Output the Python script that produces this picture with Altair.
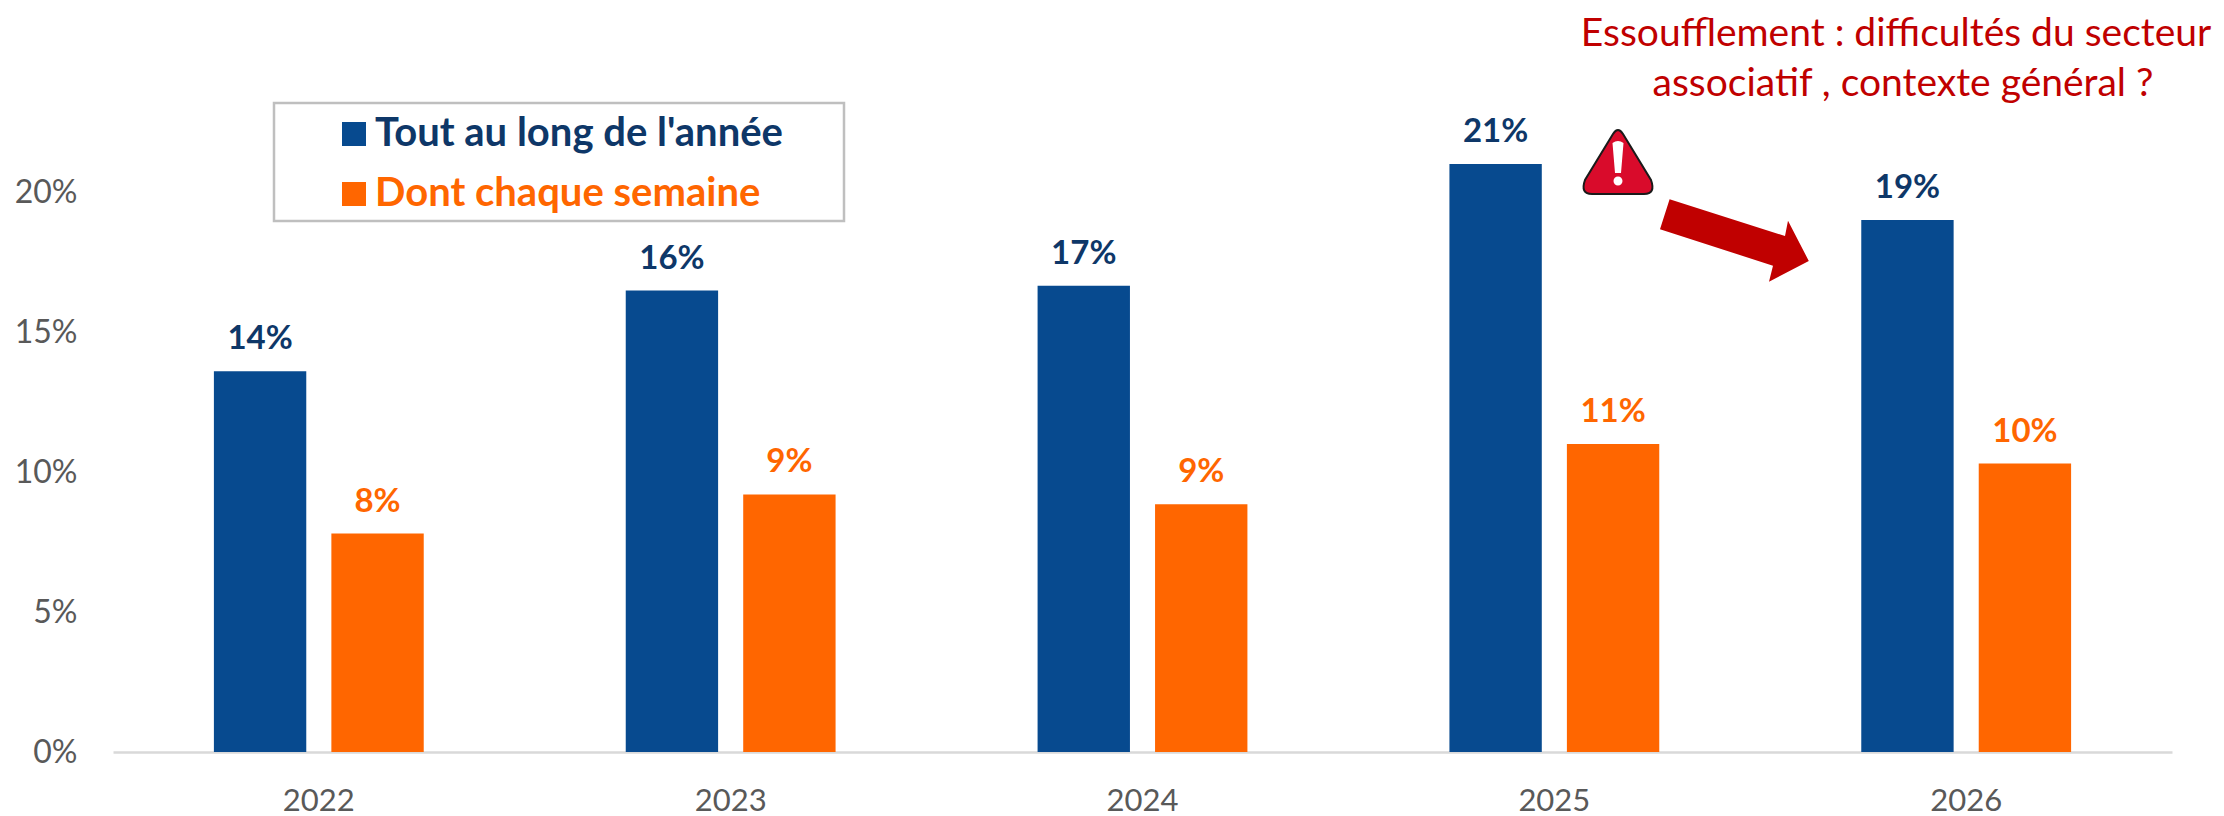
import altair as alt
import pandas as pd

years = ["2022", "2023", "2024", "2025", "2026"]
series_names = ["Tout au long de l'année", "Dont chaque semaine"]
all_year = [0.136, 0.1648, 0.1665, 0.21, 0.19]
weekly = [0.078, 0.092, 0.0885, 0.11, 0.103]
note_lines = ["Essoufflement : difficultés du secteur", "associatif , contexte général ?"]

BLUE = "#074A8F"
ORANGE = "#FF6600"
NAVY = "#0E3768"
RED = "#C00000"
GREY = "#595959"
FONT = "Lato"

df = pd.DataFrame(
    [{"year": y, "series": series_names[0], "value": v} for y, v in zip(years, all_year)]
    + [{"year": y, "series": series_names[1], "value": v} for y, v in zip(years, weekly)]
)

x_enc = alt.X(
    "year:N",
    sort=years,
    scale=alt.Scale(domain=years, paddingInner=0.4905, paddingOuter=0.245),
    axis=alt.Axis(
        title=None, labelAngle=0, labelFont=FONT, labelFontSize=31, labelColor=GREY,
        labelPadding=34, ticks=False, domainColor="#D9D9D9", domainWidth=2.5,
    ),
)
off_enc = alt.XOffset(
    "series:N", sort=series_names,
    scale=alt.Scale(domain=series_names, paddingInner=0.2137, paddingOuter=0),
)
y_enc = alt.Y(
    "value:Q",
    scale=alt.Scale(domain=[0, 0.25]),
    axis=alt.Axis(
        title=None, values=[0, 0.05, 0.1, 0.15, 0.2], format=".0%", labelFont=FONT,
        labelFontSize=32, labelColor=GREY, labelPadding=36, ticks=False, domain=False, grid=False,
    ),
)

one = pd.DataFrame({"k": [0]})

box = alt.Chart(one).mark_rect(
    fill="white", stroke="#BFBFBF", strokeWidth=2.5
).encode(x=alt.value(161), x2=alt.value(731), y=alt.value(51), y2=alt.value(169))

bars = alt.Chart(df).mark_bar().encode(
    x=x_enc, xOffset=off_enc, y=y_enc,
    color=alt.Color(
        "series:N",
        sort=series_names,
        scale=alt.Scale(domain=series_names, range=[BLUE, ORANGE]),
        legend=alt.Legend(
            title=None, orient="none", legendX=221, legendY=62, symbolType="square",
            symbolSize=576, symbolStrokeWidth=0, symbolOpacity=1, labelFont=FONT, labelFontSize=40,
            labelFontWeight="bold", labelLimit=600, rowPadding=20, labelOffset=1,
            labelColor=alt.ExprRef(expr="datum.value === \"Tout au long de l'année\" ? '#0E3768' : '#FF6600'"),
            padding=0,
        ),
    ),
)


def labels(name, colour):
    return alt.Chart(df).transform_filter(alt.datum.series == name).mark_text(
        font=FONT, fontSize=33, fontWeight="bold", color=colour, baseline="middle", dy=-32,
    ).encode(x=x_enc, xOffset=off_enc, y=y_enc, text=alt.Text("value:Q", format=".0%"))


def note_line(line, xpos, ypos):
    return alt.Chart(pd.DataFrame({"t": [line]})).mark_text(
        font=FONT, fontSize=39, color=RED, align="center", baseline="middle",
    ).encode(x=alt.value(xpos), y=alt.value(ypos), text="t:N")


ARROW = "M-.654 -.407 L.50 -.04 L.53 -.193 L.738 .21 L.34 .417 L.38 .257 L-.75 -.107 Z"
TRI = "M-.05 -.28 Q0 -.36 .05 -.28 L.33 .18 Q.38 .32 .26 .32 L-.26 .32 Q-.38 .32 -.33 .18 Z"
BANG = "M-.055 -.19 Q0 -.23 .055 -.19 L.03 .11 L-.03 .11 Z M-.045 .19 A.045 .045 0 1 1 .045 .19 A.045 .045 0 1 1 -.045 .19 Z"

arrow = alt.Chart(one).mark_point(shape=ARROW, filled=True, fill=RED, opacity=1, strokeWidth=0, size=40000).encode(
    x=alt.value(1622), y=alt.value(188))
tri = alt.Chart(one).mark_point(shape=TRI, filled=True, fill="#D90B2B", stroke="#1A1A1A", strokeWidth=2, opacity=1, size=40000).encode(
    x=alt.value(1505), y=alt.value(110))
bang = alt.Chart(one).mark_point(shape=BANG, filled=True, fill="white", opacity=1, strokeWidth=0, size=40000).encode(
    x=alt.value(1505), y=alt.value(110))

chart = alt.layer(
    box, bars, labels(series_names[0], NAVY), labels(series_names[1], ORANGE),
    note_line(note_lines[0], 1783, -18), note_line(note_lines[1], 1790, 32), arrow, tri, bang
).properties(
    width=2059, height=700,
    padding={"left": 105, "top": 44, "right": 44, "bottom": 64},
    autosize=alt.AutoSizeParams(type="none"),
).configure_view(stroke=None).configure_bar(strokeWidth=0)

chart.save("out.html", embed_options={"renderer": "svg", "actions": False})
